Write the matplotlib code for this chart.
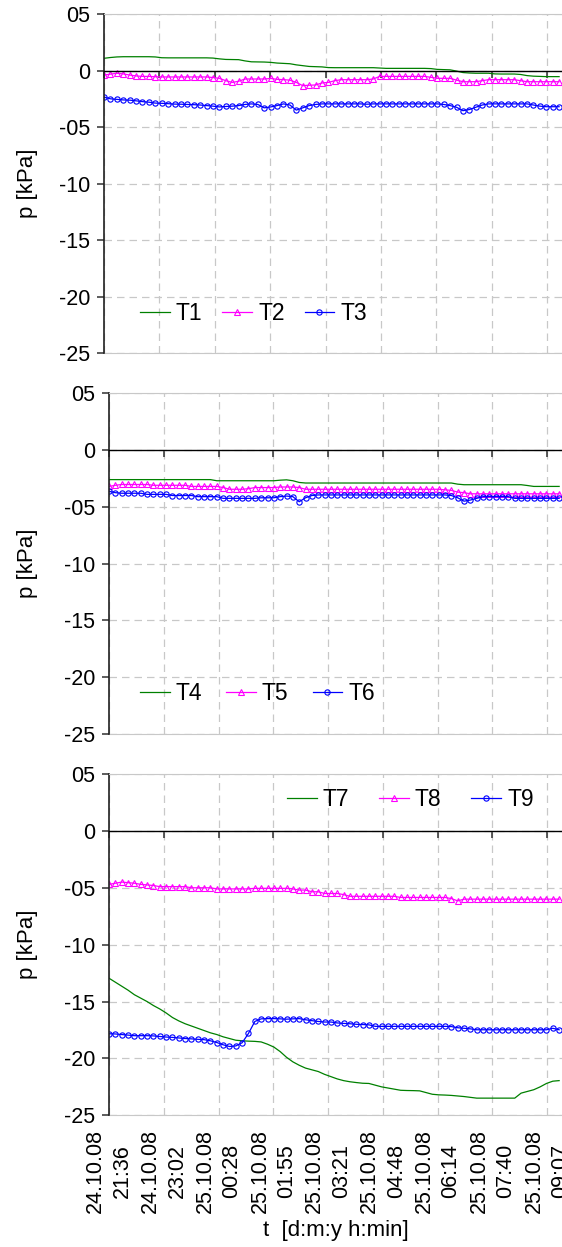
import numpy as np
import pandas as pd
import matplotlib
matplotlib.use('Agg')
import matplotlib.pyplot as plt
import matplotlib.dates as mdates

plt.rcParams['font.family'] = ['Liberation Sans', 'DejaVu Sans']

# 采样时间: 24.10.08 21:36 起, 每 10 min 一个点
time = pd.date_range('2008-10-24 21:36', periods=72, freq='10min')
tick_times = pd.date_range('2008-10-24 21:36', periods=9, freq='5184s')
y_ticks = [0.5, 0, -0.5, -1.0, -1.5, -2.0, -2.5]
y_ticklabels = ['05', '0', '-05', '-10', '-15', '-20', '-25']

# p [kPa]
T1 = [0.108, 0.115, 0.120, 0.122, 0.122, 0.122, 0.122, 0.122, 0.120, 0.113,
      0.112, 0.112, 0.112, 0.112, 0.112, 0.112, 0.112, 0.110, 0.103, 0.098,
      0.097, 0.096, 0.085, 0.077, 0.076, 0.075, 0.072, 0.066, 0.063, 0.060,
      0.050, 0.043, 0.036, 0.034, 0.032, 0.026, 0.025, 0.025, 0.025, 0.025,
      0.025, 0.025, 0.025, 0.022, 0.019, 0.019, 0.019, 0.019, 0.019, 0.019,
      0.019, 0.017, 0.010, 0.008, 0.006, -0.005, -0.018, -0.022, -0.024, -0.024,
      -0.024, -0.030, -0.031, -0.031, -0.031, -0.035, -0.045, -0.050, -0.052, -0.054,
      -0.054, -0.054]
T2 = [-0.040, -0.032, -0.024, -0.030, -0.040, -0.048, -0.052, -0.052, -0.055, -0.057,
      -0.057, -0.057, -0.057, -0.057, -0.057, -0.057, -0.057, -0.062, -0.069, -0.090,
      -0.105, -0.095, -0.075, -0.075, -0.075, -0.075, -0.070, -0.078, -0.081, -0.085,
      -0.105, -0.134, -0.130, -0.128, -0.110, -0.105, -0.090, -0.081, -0.081, -0.081,
      -0.081, -0.081, -0.075, -0.052, -0.052, -0.052, -0.052, -0.052, -0.052, -0.052,
      -0.052, -0.060, -0.069, -0.069, -0.069, -0.085, -0.099, -0.099, -0.099, -0.090,
      -0.081, -0.081, -0.081, -0.081, -0.081, -0.090, -0.099, -0.099, -0.099, -0.099,
      -0.099, -0.099]
T3 = [-0.235, -0.250, -0.255, -0.260, -0.262, -0.268, -0.275, -0.280, -0.288, -0.290,
      -0.293, -0.297, -0.298, -0.300, -0.302, -0.305, -0.310, -0.315, -0.322, -0.318,
      -0.315, -0.310, -0.300, -0.295, -0.300, -0.330, -0.322, -0.310, -0.295, -0.305,
      -0.350, -0.330, -0.310, -0.300, -0.295, -0.295, -0.295, -0.295, -0.295, -0.295,
      -0.295, -0.298, -0.295, -0.295, -0.295, -0.295, -0.295, -0.295, -0.295, -0.295,
      -0.295, -0.295, -0.295, -0.300, -0.310, -0.325, -0.355, -0.345, -0.325, -0.305,
      -0.295, -0.295, -0.295, -0.295, -0.295, -0.295, -0.295, -0.305, -0.315, -0.320,
      -0.320, -0.320]
T4 = [-0.260] * 17 + [-0.270] * 10 + [-0.265, -0.262, -0.270, -0.285] \
     + [-0.290] * 24 + [-0.300] + [-0.305] * 10 + [-0.312] + [-0.320] * 5
T5 = [-0.320, -0.310, -0.303, -0.303, -0.303, -0.303, -0.303, -0.310, -0.310, -0.310,
      -0.310, -0.310, -0.310, -0.320, -0.320, -0.320, -0.320, -0.320, -0.330, -0.345,
      -0.345, -0.345, -0.340, -0.330, -0.330, -0.330, -0.330, -0.325, -0.325, -0.325,
      -0.330, -0.345, -0.345, -0.345, -0.345, -0.345, -0.345, -0.345, -0.345, -0.345,
      -0.345, -0.345, -0.345, -0.345, -0.345, -0.345, -0.345, -0.345, -0.345, -0.345,
      -0.345, -0.345, -0.345, -0.350, -0.355, -0.370, -0.375, -0.385, -0.385, -0.385,
      -0.385, -0.385, -0.385, -0.385, -0.385, -0.385, -0.385, -0.385, -0.385, -0.385,
      -0.385, -0.385]
T6 = [-0.363, -0.375, -0.380, -0.380, -0.380, -0.380, -0.390, -0.390, -0.390, -0.390,
      -0.400, -0.400, -0.400, -0.400, -0.410, -0.410, -0.410, -0.410, -0.425, -0.425,
      -0.425, -0.425, -0.425, -0.425, -0.420, -0.420, -0.420, -0.410, -0.405, -0.410,
      -0.455, -0.420, -0.400, -0.395, -0.395, -0.395, -0.395, -0.395, -0.395, -0.395,
      -0.395, -0.395, -0.395, -0.395, -0.395, -0.395, -0.395, -0.395, -0.395, -0.395,
      -0.395, -0.395, -0.395, -0.395, -0.400, -0.420, -0.450, -0.440, -0.425, -0.410,
      -0.410, -0.410, -0.410, -0.410, -0.425, -0.425, -0.425, -0.425, -0.425, -0.425,
      -0.425, -0.425]
T7 = [-1.295, -1.330, -1.365, -1.400, -1.440, -1.470, -1.500, -1.535, -1.565, -1.600,
      -1.640, -1.670, -1.695, -1.715, -1.735, -1.755, -1.775, -1.790, -1.810, -1.825,
      -1.840, -1.845, -1.848, -1.850, -1.855, -1.875, -1.900, -1.940, -1.990, -2.030,
      -2.060, -2.085, -2.100, -2.115, -2.140, -2.160, -2.180, -2.195, -2.205, -2.212,
      -2.218, -2.220, -2.235, -2.250, -2.260, -2.270, -2.280, -2.282, -2.283, -2.285,
      -2.300, -2.315, -2.320, -2.322, -2.325, -2.330, -2.335, -2.342, -2.349, -2.349,
      -2.349, -2.349, -2.349, -2.349, -2.349, -2.305, -2.290, -2.275, -2.250, -2.220,
      -2.200, -2.195]
T8 = [-0.470, -0.460, -0.450, -0.455, -0.460, -0.470, -0.475, -0.480, -0.490, -0.490,
      -0.490, -0.490, -0.490, -0.500, -0.500, -0.500, -0.500, -0.510, -0.510, -0.510,
      -0.510, -0.510, -0.510, -0.505, -0.505, -0.505, -0.505, -0.505, -0.505, -0.510,
      -0.520, -0.520, -0.535, -0.535, -0.550, -0.550, -0.550, -0.560, -0.575, -0.575,
      -0.575, -0.575, -0.575, -0.575, -0.575, -0.575, -0.585, -0.585, -0.585, -0.585,
      -0.585, -0.585, -0.585, -0.585, -0.595, -0.615, -0.600, -0.600, -0.600, -0.600,
      -0.600, -0.600, -0.600, -0.600, -0.600, -0.600, -0.600, -0.600, -0.600, -0.600,
      -0.600, -0.600]
T9 = [-1.783, -1.785, -1.790, -1.795, -1.800, -1.800, -1.800, -1.802, -1.807, -1.812,
      -1.815, -1.820, -1.825, -1.828, -1.832, -1.835, -1.845, -1.860, -1.880, -1.895,
      -1.890, -1.862, -1.780, -1.675, -1.652, -1.650, -1.650, -1.652, -1.655, -1.652,
      -1.650, -1.660, -1.668, -1.675, -1.680, -1.680, -1.688, -1.692, -1.695, -1.700,
      -1.702, -1.705, -1.718, -1.718, -1.718, -1.718, -1.718, -1.718, -1.718, -1.718,
      -1.718, -1.718, -1.718, -1.718, -1.720, -1.730, -1.735, -1.740, -1.748, -1.748,
      -1.748, -1.748, -1.748, -1.748, -1.748, -1.748, -1.748, -1.748, -1.748, -1.748,
      -1.735, -1.748]

x = mdates.date2num(time)
xt = mdates.date2num(tick_times)
xt_labels = [t.strftime('%d.%m.%y\n%H:%M') for t in tick_times]

styles = [dict(color='#008000', lw=0.9),
          dict(color='#ff00ff', lw=0.9, marker='^', ms=4.3, mfc='none', mew=0.8),
          dict(color='#0000ff', lw=0.9, marker='o', ms=3.8, mfc='none', mew=0.8)]

# (数据, 图例, 位置, 图例锚点, 列间距, ylabel x)
panels = [
    ([T1, T2, T3], ['T1', 'T2', 'T3'], [0.1851, 0.7167, 0.8149, 0.2721], (0.0786, 0.116), 0.87, -0.144),
    ([T4, T5, T6], ['T4', 'T5', 'T6'], [0.1940, 0.4114, 0.8060, 0.2732], (0.068, 0.120), 1.05, -0.157),
    ([T7, T8, T9], ['T7', 'T8', 'T9'], [0.1940, 0.1056, 0.8060, 0.2737], (0.393, 0.924), 1.30, -0.157),
]

fig = plt.figure(figsize=(5.62, 12.47), dpi=100)
for k, (series, names, pos, anchor, colsp, lx) in enumerate(panels):
    ax = fig.add_axes(pos)
    for s, name, st in zip(series, names, styles):
        ax.plot(x, s, label=name, **st)

    ax.set_xlim(x[0], x[0] + 0.4962)
    ax.set_ylim(-2.5, 0.5)
    ax.set_yticks(y_ticks)
    ax.set_yticklabels(y_ticklabels)
    ax.set_xticks(xt)
    ax.set_axisbelow(True)
    ax.grid(True, color='#c8c8c8', linestyle=(0, (6, 4)), linewidth=0.9)

    # x 轴放在 p = 0 处
    ax.spines['bottom'].set_position(('data', 0))
    ax.spines['bottom'].set_color('black')
    ax.spines['bottom'].set_linewidth(1.0)
    ax.spines['left'].set_color('#202020')
    ax.spines['left'].set_linewidth(1.2)
    ax.spines['top'].set_color('#c8c8c8')
    ax.spines['right'].set_visible(False)
    ax.tick_params(axis='x', direction='out', length=5, width=1.1, color='#303030',
                   labelbottom=False)
    ax.tick_params(axis='y', direction='out', length=5, width=1.1, color='#303030',
                   pad=5, labelsize=15.5)

    ax.set_ylabel('p [kPa]', fontsize=16)
    ax.yaxis.set_label_coords(lx, 0.5)

    ax.legend(loc='center left', bbox_to_anchor=anchor, ncol=3, frameon=False,
              fontsize=16.5, handlelength=1.3, handletextpad=0.26, columnspacing=colsp,
              borderpad=0, borderaxespad=0, numpoints=1)

    sec = ax.secondary_xaxis('bottom')
    sec.set_xticks(xt)
    sec.spines['bottom'].set_color('#c8c8c8')
    if k == 2:
        sec.set_xticklabels(xt_labels, rotation=90, multialignment='center',
                            linespacing=1.35, fontsize=15.5)
        sec.tick_params(length=0, pad=10)
        sec.set_xlabel('t  [d:m:y h:min]', fontsize=16, labelpad=5)
    else:
        sec.tick_params(length=0, labelbottom=False)

fig.savefig('out.png', dpi=100)
